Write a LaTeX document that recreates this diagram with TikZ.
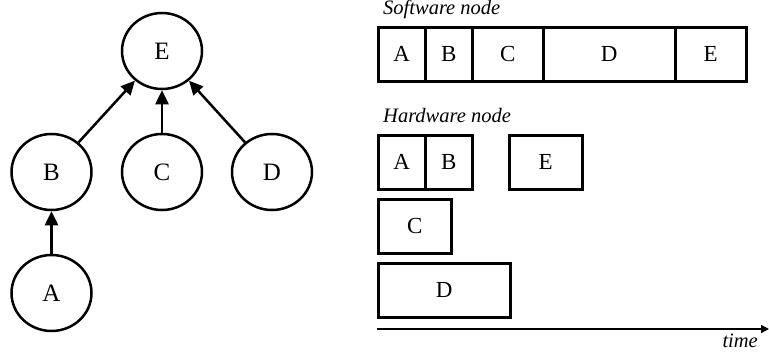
\documentclass[tikz,border=0pt]{standalone}
\usepackage{fontspec}
\setmainfont{Liberation Serif}
\usetikzlibrary{arrows.meta,shapes.geometric}
\tikzset{
  task/.style={draw, ellipse, line width=2.5pt, minimum width=80pt, minimum height=76pt, inner sep=0pt, font=\fontsize{25}{30}\selectfont},
  slot/.style={draw, rectangle, line width=2.5pt, minimum height=54pt, inner sep=0pt, anchor=north west, font=\fontsize{23}{28}\selectfont},
  dep/.style={line width=2.5pt, -{Triangle[length=14pt,width=13pt]}},
  caption/.style={font=\fontsize{20.5}{24}\selectfont\itshape, inner sep=0pt}
}

\begin{document}
\begin{tikzpicture}[x=1pt, y=-1pt]
\useasboundingbox (0,0) rectangle (769,356);

% task graph
\node[task] (E) at (162,51) {E};
\node[task] (B) at (51.5,172) {B};
\node[task] (C) at (162,172) {C};
\node[task] (D) at (272,172) {D};
\node[task] (A) at (51.5,293) {A};
\draw[dep] (B) -- (E);
\draw[dep] (C) -- (E);
\draw[dep] (D) -- (E);
\draw[dep] (A) -- (B);

% software node
\node[caption, anchor=base west] (swlabel) at (383,15) {Software node};
\node[slot, minimum width=47pt] (swA) at (377,26) {A};
\node[slot, minimum width=47pt] (swB) at (424,26) {B};
\node[slot, minimum width=71pt] (swC) at (471,26) {C};
\node[slot, minimum width=132pt] (swD) at (542,26) {D};
\node[slot, minimum width=71pt] (swE) at (674,26) {E};

% hardware node
\node[caption, anchor=base west] (hwlabel) at (383,122) {Hardware node};
\node[slot, minimum width=47pt] (hwA) at (377,134) {A};
\node[slot, minimum width=47pt] (hwB) at (424,134) {B};
\node[slot, minimum width=73pt] (hwE) at (508,134) {E};
\node[slot, minimum width=73pt] (hwC) at (377,198) {C};
\node[slot, minimum width=132pt] (hwD) at (377,262) {D};

% time axis
\coordinate (t0) at (377,329);
\coordinate (t1) at (769,329);
\draw[line width=1.5pt, -{Triangle[length=8pt,width=8pt]}] (t0) -- (t1);
\node[caption, anchor=base east] (timelabel) at (758,347) {time};
\end{tikzpicture}
\end{document}
